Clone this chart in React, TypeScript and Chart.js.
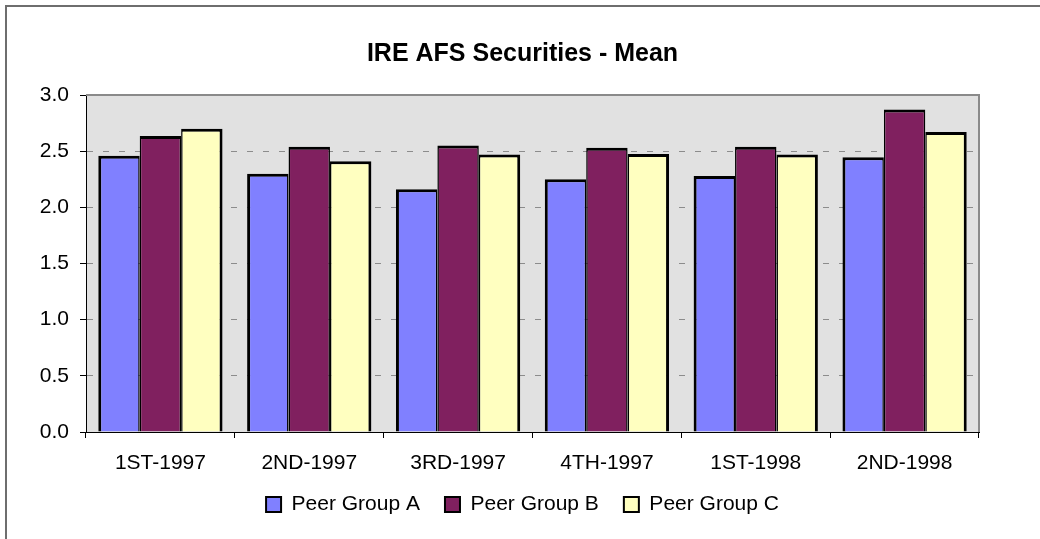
import React, { useEffect, useRef } from 'react';
import { Chart, registerables } from 'chart.js';

Chart.register(...registerables);

const chartTitle = 'IRE AFS Securities - Mean';
const categories = ['1ST-1997', '2ND-1997', '3RD-1997', '4TH-1997', '1ST-1998', '2ND-1998'];
const seriesNames = ['Peer Group A', 'Peer Group B', 'Peer Group C'];
const peerGroupA = [2.46, 2.3, 2.16, 2.25, 2.28, 2.445];
const peerGroupB = [2.635, 2.54, 2.55, 2.53, 2.54, 2.87];
const peerGroupC = [2.7, 2.41, 2.47, 2.475, 2.47, 2.67];
const yMin = 0;
const yMax = 3;
const yStep = 0.5;

const FONT = 'Arial, "Liberation Sans", sans-serif';

const framePlugin = {
  id: 'frame',
  beforeDraw(chart: any) {
    const { ctx, chartArea: a, width, height } = chart;
    ctx.save();
    ctx.fillStyle = '#ffffff';
    ctx.fillRect(0, 0, width, height);
    ctx.strokeStyle = '#6e6e6e';
    ctx.lineWidth = 2;
    ctx.beginPath();
    ctx.moveTo(6, height);
    ctx.lineTo(6, 6);
    ctx.lineTo(width, 6);
    ctx.stroke();
    ctx.fillStyle = '#e1e1e1';
    ctx.fillRect(a.left, a.top, a.right - a.left, a.bottom - a.top);
    ctx.restore();
  },
  afterDatasetsDraw(chart: any) {
    const { ctx, chartArea: a } = chart;
    ctx.save();
    ctx.strokeStyle = '#8a8a8a';
    ctx.lineWidth = 2;
    ctx.beginPath();
    ctx.moveTo(a.left, a.top);
    ctx.lineTo(a.right, a.top);
    ctx.lineTo(a.right, a.bottom);
    ctx.stroke();
    ctx.restore();
  },
};

export default function App() {
  const ref = useRef<HTMLCanvasElement | null>(null);

  useEffect(() => {
    document.body.style.margin = '0';
    const canvas = ref.current;
    if (!canvas) return;
    const chart = new Chart(canvas, {
      type: 'bar',
      data: {
        labels: categories,
        datasets: [
          {
            label: seriesNames[0],
            data: peerGroupA,
            backgroundColor: '#8080ff',
            borderColor: '#000000',
            borderWidth: { top: 3, left: 3, right: 1.5, bottom: 0 },
            borderSkipped: false,
          },
          {
            label: seriesNames[1],
            data: peerGroupB,
            backgroundColor: '#80205f',
            borderColor: '#000000',
            borderWidth: { top: 3, left: 1.5, right: 1.5, bottom: 0 },
            borderSkipped: false,
          },
          {
            label: seriesNames[2],
            data: peerGroupC,
            backgroundColor: '#ffffc0',
            borderColor: '#000000',
            borderWidth: { top: 3, left: 1.5, right: 3, bottom: 0 },
            borderSkipped: false,
          },
        ],
      },
      options: {
        responsive: false,
        animation: false,
        devicePixelRatio: 1,
        layout: { padding: { left: 5, right: 0, top: 0, bottom: 14 } },
        datasets: { bar: { categoryPercentage: 0.835, barPercentage: 1 } },
        plugins: {
          title: {
            display: true,
            text: chartTitle,
            color: '#000',
            font: { family: FONT, size: 25, weight: 'bold', lineHeight: 1.2 },
            padding: { top: 39, bottom: 26 },
          },
          legend: {
            display: true,
            position: 'bottom',
            labels: {
              color: '#000',
              font: { family: FONT, size: 21 },
              boxWidth: 15,
              boxHeight: 15,
              padding: 25,
              generateLabels: (c: any) => {
                const items = (Chart.defaults as any).plugins.legend.labels.generateLabels(c);
                return items.map((it: any) => ({ ...it, lineWidth: 2, strokeStyle: '#000' }));
              },
            },
          },
          tooltip: { enabled: false },
        },
        scales: {
          x: {
            offset: true,
            grid: {
              offset: true,
              drawOnChartArea: false,
              drawTicks: true,
              tickLength: 6,
              color: '#000',
              tickColor: '#000',
              tickWidth: 1,
            },
            border: { display: true, color: '#000', width: 1 },
            ticks: {
              color: '#000',
              font: { family: FONT, size: 21 },
              padding: 13,
              maxRotation: 0,
              autoSkip: false,
            },
            afterFit: (s: any) => {
              s.height = 37;
            },
          },
          y: {
            min: yMin,
            max: yMax,
            grid: {
              color: '#8c8c8c',
              lineWidth: 1,
              drawTicks: true,
              tickLength: 6,
              tickColor: '#000',
              tickWidth: 1,
              tickBorderDash: [],
            },
            border: { display: true, color: '#000', width: 1, dash: [6, 10] },
            ticks: {
              stepSize: yStep,
              color: '#000',
              font: { family: FONT, size: 21 },
              padding: 11,
              callback: (v: any) => Number(v).toFixed(1),
            },
            afterFit: (s: any) => {
              s.width = 81;
            },
          },
          yRightSpace: {
            position: 'right',
            display: true,
            grid: { display: false, drawTicks: false },
            border: { display: false },
            ticks: { display: false },
            afterFit: (s: any) => {
              s.width = 61;
            },
          },
        },
      },
      plugins: [framePlugin],
    } as any);
    return () => chart.destroy();
  }, []);

  return <canvas ref={ref} width={1040} height={539} style={{ display: 'block' }} />;
}
